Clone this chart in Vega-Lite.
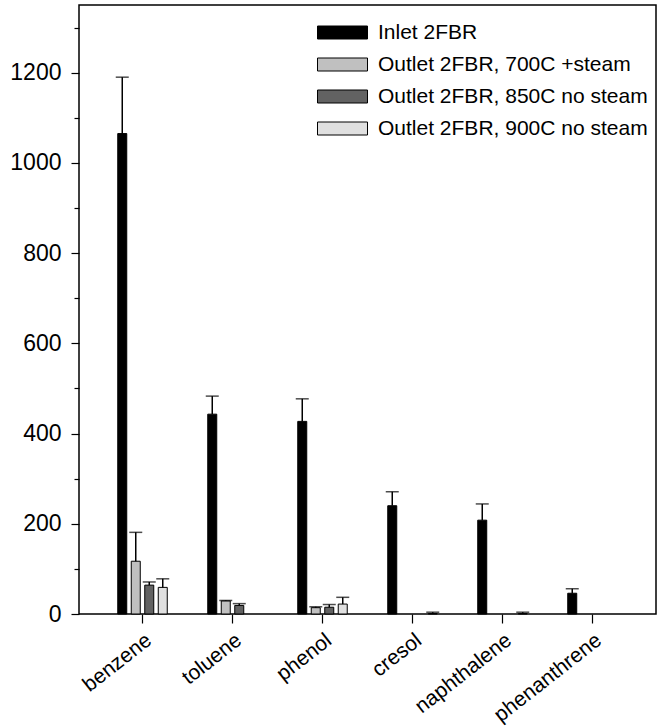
{
  "$schema": "https://vega.github.io/schema/vega-lite/v6.json",
  "width": 577,
  "height": 609,
  "autosize": {"type": "none"},
  "padding": {"left": 79, "top": 5, "right": 11, "bottom": 113},
  "background": "white",
  "config": {
    "font": "Liberation Sans",
    "view": {"stroke": "black", "strokeWidth": 1.5},
    "axis": {"grid": false, "domain": false, "labelColor": "black", "tickColor": "black", "titleColor": "black"}
  },
  "data": {
    "values": [
      {"compound": "benzene", "series": "Inlet 2FBR", "value": 1065, "upper": 1190},
      {"compound": "benzene", "series": "Outlet 2FBR, 700C +steam", "value": 117, "upper": 181},
      {"compound": "benzene", "series": "Outlet 2FBR, 850C no steam", "value": 64, "upper": 71},
      {"compound": "benzene", "series": "Outlet 2FBR, 900C no steam", "value": 59, "upper": 78},
      {"compound": "toluene", "series": "Inlet 2FBR", "value": 443, "upper": 483},
      {"compound": "toluene", "series": "Outlet 2FBR, 700C +steam", "value": 29, "upper": 30},
      {"compound": "toluene", "series": "Outlet 2FBR, 850C no steam", "value": 19, "upper": 23},
      {"compound": "phenol", "series": "Inlet 2FBR", "value": 427, "upper": 477},
      {"compound": "phenol", "series": "Outlet 2FBR, 700C +steam", "value": 14, "upper": 16},
      {"compound": "phenol", "series": "Outlet 2FBR, 850C no steam", "value": 15, "upper": 21},
      {"compound": "phenol", "series": "Outlet 2FBR, 900C no steam", "value": 22, "upper": 37},
      {"compound": "cresol", "series": "Inlet 2FBR", "value": 240, "upper": 271},
      {"compound": "cresol", "series": "Outlet 2FBR, 900C no steam", "value": 1, "upper": 4},
      {"compound": "naphthalene", "series": "Inlet 2FBR", "value": 208, "upper": 244},
      {"compound": "naphthalene", "series": "Outlet 2FBR, 900C no steam", "value": 1, "upper": 4},
      {"compound": "phenanthrene", "series": "Inlet 2FBR", "value": 46, "upper": 56}
    ]
  },
  "encoding": {
    "x": {
      "field": "compound",
      "type": "nominal",
      "sort": ["benzene", "toluene", "phenol", "cresol", "naphthalene", "phenanthrene"],
      "scale": {"paddingInner": 0.4, "paddingOuter": 0.4056},
      "axis": {
        "title": null,
        "labelAngle": -38,
        "labelAlign": "right",
        "labelBaseline": "top",
        "labelFontSize": 21,
        "labelPadding": 6,
        "tickSize": 9,
        "tickWidth": 1.2
      }
    },
    "xOffset": {
      "field": "series",
      "type": "nominal",
      "sort": ["Inlet 2FBR", "Outlet 2FBR, 700C +steam", "Outlet 2FBR, 850C no steam", "Outlet 2FBR, 900C no steam"],
      "scale": {"domain": ["Inlet 2FBR", "Outlet 2FBR, 700C +steam", "Outlet 2FBR, 850C no steam", "Outlet 2FBR, 900C no steam"], "paddingInner": 0.3333, "paddingOuter": 0.1667}
    }
  },
  "layer": [
    {
      "mark": {"type": "bar", "stroke": "black", "strokeWidth": 1},
      "encoding": {
        "y": {
          "field": "value",
          "type": "quantitative",
          "scale": {"domain": [0, 1350], "nice": false, "zero": true},
          "axis": {
            "title": null,
            "values": [0, 50, 100, 150, 200, 250, 300, 350, 400, 450, 500, 550, 600, 650, 700, 750, 800, 850, 900, 950, 1000, 1050, 1100, 1150, 1200, 1250, 1300, 1350],
            "labelExpr": "datum.value % 200 === 0 && datum.value <= 1200 ? datum.label : ''",
            "labelFontSize": 23,
            "labelPadding": 10,
            "tickSize": {"condition": {"test": "datum.value % 200 === 0", "value": 8}, "value": 5},
            "tickWidth": 1.2,
            "format": "d"
          }
        },
        "color": {
          "field": "series",
          "type": "nominal",
          "scale": {
            "domain": ["Inlet 2FBR", "Outlet 2FBR, 700C +steam", "Outlet 2FBR, 850C no steam", "Outlet 2FBR, 900C no steam"],
            "range": ["#000000", "#c0c0c0", "#626262", "#e0e0e0"]
          },
          "legend": {
            "title": null,
            "orient": "none",
            "legendX": 253,
            "legendY": 17,
            "padding": 0,
            "symbolType": "M-5,-1.3H5V1.3H-5Z",
            "symbolSize": 100,
            "symbolStrokeColor": "black",
            "symbolStrokeWidth": 1,
            "symbolOpacity": 1,
            "labelFontSize": 21,
            "labelColor": "black",
            "labelOffset": 25,
            "labelLimit": 400,
            "rowPadding": 10
          }
        }
      }
    },
    {
      "mark": {"type": "rule", "color": "black", "strokeWidth": 1.5},
      "encoding": {
        "y": {"field": "value", "type": "quantitative"},
        "y2": {"field": "upper"}
      }
    },
    {
      "mark": {"type": "tick", "color": "black", "orient": "horizontal", "size": 13, "thickness": 1.5},
      "encoding": {
        "y": {"field": "upper", "type": "quantitative"}
      }
    }
  ]
}
